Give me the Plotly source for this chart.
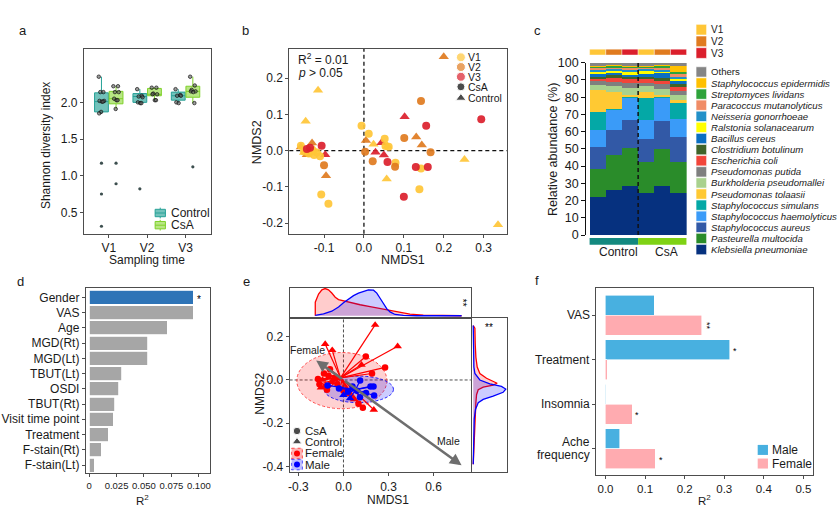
import plotly.graph_objects as go

FONT = "Liberation Sans, Arial, Helvetica, sans-serif"
W, H = 840, 521
INK = "#1a1a1a"
FRAME = "#4d4d4d"

# ===================== DATA =====================
# ---- Panel a: Shannon diversity (box statistics)
times = ["V1", "V2", "V3"]
ctrl_q1 = [1.87, 2.00, 2.03]
ctrl_med = [2.01, 2.08, 2.09]
ctrl_q3 = [2.13, 2.12, 2.14]
ctrl_low = [1.85, 1.99, 1.99]
ctrl_high = [2.35, 2.18, 2.18]
csa_q1 = [1.98, 2.09, 2.07]
csa_med = [2.05, 2.11, 2.15]
csa_q3 = [2.15, 2.19, 2.22]
csa_low = [1.91, 2.03, 1.99]
csa_high = [2.22, 2.20, 2.35]
ctrl_pts = [[2.35, 2.14, 2.14, 2.02, 2.02, 2.01, 2.01, 1.87, 1.85],
            [2.18, 2.09, 2.08, 2.07, 2.00, 1.99, 1.99],
            [2.18, 2.10, 2.09, 2.09, 2.00, 1.99]]
csa_pts = [[2.22, 2.22, 2.14, 2.14, 2.05, 2.03, 2.03, 1.91],
           [2.20, 2.20, 2.12, 2.11, 2.11, 2.03, 2.03],
           [2.35, 2.23, 2.17, 2.15, 2.15, 2.14, 1.99]]
ctrl_out = [[1.17, 0.75, 0.31], [0.82], []]
csa_out = [[1.17, 0.89], [], [1.12]]
jitter = [-0.07, 0.05, -0.03, 0.07, -0.05, 0.01, 0.04, -0.01, -0.06]

# ---- Panel b: NMDS of visits
b_nmds1 = [0.200, -0.115, -0.146, 0.102, 0.131, 0.145, 0.005, -0.130, -0.158, -0.143, -0.097,
           -0.095, 0.044, 0.029, 0.050, 0.024, 0.059, 0.057, 0.252, 0.336, -0.125, -0.150,
           0.143, 0.294, 0.156, -0.006, 0.012, 0.052, 0.101, 0.167, 0.003, 0.022, 0.059,
           0.079, 0.078, 0.130, 0.143, 0.160, 0.139, 0.100, -0.107, -0.089, -0.100, -0.106,
           -0.110, -0.158, -0.143, -0.135, -0.150, -0.138, -0.125, -0.118, -0.130, 0.054, 0.062]
b_nmds2 = [0.259, 0.167, 0.081, 0.094, 0.038, 0.016, 0.028, 0.021, 0.010, -0.011, -0.011,
           -0.069, 0.022, -0.004, -0.012, 0.018, 0.012, -0.078, -0.024, -0.204, 0.003, -0.005,
           0.137, 0.087, 0.069, 0.069, 0.047, 0.033, 0.035, -0.004, -0.003, -0.029, -0.031,
           -0.033, -0.044, -0.045, -0.049, -0.045, -0.106, -0.127, -0.121, -0.146, -0.040, 0.014,
           -0.015, 0.014, 0.005, 0.008, -0.002, -0.008, -0.012, -0.005, 0.000, 0.013, 0.011]
b_visit = ["V2", "V1", "V1", "V3", "V2", "V2", "V2", "V2", "V2", "V2", "V3",
           "V2", "V3", "V3", "V3", "V1", "V1", "V1", "V1", "V1", "V1", "V1",
           "V2", "V3", "V3", "V1", "V1", "V1", "V2", "V2", "V2", "V2", "V3",
           "V1", "V2", "V3", "V1", "V3", "V1", "V3", "V1", "V1", "V2", "V3",
           "V1", "V1", "V3", "V3", "V1", "V1", "V1", "V1", "V1", "V1", "V1"]
b_group = ["Control"] * 22 + ["CsA"] * 33
b_r2_text = "R<sup>2</sup> = 0.01"
b_p_text = "<i>p</i> &gt; 0.05"

# ---- Panel c: relative abundance (%) per sample, species bottom -> top
species = ["Klebsiella pneumoniae", "Pasteurella multocida", "Staphylococcus aureus",
           "Staphylococcus haemolyticus", "Staphylococcus simulans", "Pseudomonas tolaasii",
           "Burkholderia pseudomallei", "Pseudomonas putida", "Escherichia coli",
           "Clostridium botulinum", "Bacillus cereus", "Ralstonia solanacearum",
           "Neisseria gonorrhoeae", "Paracoccus mutanolyticus", "Streptomyces lividans",
           "Staphylococcus epidermidis", "Others"]
species_colors = ["#06317f", "#2a8c2a", "#3259a6", "#3a9bf8", "#04a8a6", "#ffc933",
                  "#a9d18e", "#7f7f7f", "#f2453a", "#3f6429", "#0a6fc2", "#ffff00",
                  "#2290c8", "#f08c66", "#2ea33a", "#ffc000", "#858585"]
samples = ["Control V1", "Control V2", "Control V3", "CsA V1", "CsA V2", "CsA V3"]
control_v1 = [22.2, 16.3, 12.5, 10.0, 10.5, 12.8, 2.7, 2.2, 1.5, 1.3, 1.2, 1.5, 1.3, 1.4, 0.8, 0.2, 1.6]
control_v2 = [26.2, 20.0, 14.8, 11.8, 0.2, 10.2, 3.6, 2.2, 2.3, 1.5, 1.4, 1.3, 0.8, 1.2, 1.0, 0.2, 1.3]
control_v3 = [28.6, 21.8, 16.1, 13.3, 0.2, 1.5, 3.8, 2.7, 2.3, 1.2, 1.5, 1.6, 1.7, 1.0, 0.7, 0.3, 1.7]
csa_v1 = [24.3, 18.1, 13.6, 10.8, 12.9, 3.3, 3.3, 2.2, 2.0, 1.3, 1.8, 1.9, 0.8, 1.2, 0.5, 0.2, 1.8]
csa_v2 = [28.4, 21.5, 16.5, 13.3, 0.2, 1.5, 3.6, 2.5, 1.8, 1.9, 2.6, 1.4, 1.0, 0.8, 1.5, 0.1, 1.4]
csa_v3 = [24.1, 18.3, 14.3, 10.7, 9.4, 1.5, 2.9, 2.3, 2.4, 1.7, 1.9, 1.5, 1.0, 1.2, 1.6, 3.4, 1.8]
sample_visit = ["V1", "V2", "V3", "V1", "V2", "V3"]
sample_group = ["Control", "Control", "Control", "CsA", "CsA", "CsA"]

# ---- Panel d: envfit R2
d_vars = ["Gender", "VAS", "Age", "MGD(Rt)", "MGD(Lt)", "TBUT(Lt)", "OSDI", "TBUT(Rt)",
          "Visit time point", "Treatment", "F-stain(Rt)", "F-stain(Lt)"]
d_r2 = [0.0950, 0.0948, 0.0713, 0.0536, 0.0533, 0.0297, 0.0270, 0.0234, 0.0222, 0.0176, 0.0113, 0.0045]
d_sig = ["*", "", "", "", "", "", "", "", "", "", "", ""]

# ---- Panel e: NMDS by gender
fem_x = [0.211, 0.361, -0.122, -0.075, 0.202, 0.149, 0.277, 0.129, 0.120, 0.190, -0.160, -0.140,
         -0.120, -0.100, -0.080, -0.060, -0.130, -0.040, 0.070, 0.030, -0.150, -0.090, 0.100, 0.000,
         -0.110, -0.170]
fem_y = [0.255, 0.156, 0.166, 0.138, -0.138, 0.109, 0.058, -0.128, 0.070, 0.030, -0.020, 0.000,
         -0.030, 0.020, -0.010, 0.010, 0.030, -0.020, -0.090, -0.060, -0.035, 0.050, -0.110, -0.050,
         -0.045, 0.005]
fem_trt = ["Control", "Control", "Control", "Control", "Control", "CsA", "CsA", "CsA", "Control", "CsA",
           "CsA", "Control", "CsA", "CsA", "Control", "CsA", "CsA", "CsA", "Control", "CsA", "Control",
           "CsA", "CsA", "CsA", "CsA", "CsA"]
male_x = [0.111, 0.200, 0.204, 0.180, 0.044, -0.106, 0.110, 0.060, 0.000, 0.150, 0.090, 0.030, -0.030]
male_y = [-0.003, -0.030, -0.072, -0.030, -0.085, -0.025, -0.080, -0.030, -0.070, -0.060, -0.050, -0.055, -0.040]
male_trt = ["CsA", "CsA", "CsA", "CsA", "Control", "CsA", "CsA", "CsA", "Control", "CsA", "CsA", "CsA", "CsA"]
fem_centroid = [-0.02, 0.01]
male_centroid = [0.08, -0.045]
fem_ellipse = [-0.311, 0.289, -0.133, 0.127]   # x0, x1, y0, y1
male_ellipse = [-0.129, 0.333, -0.105, 0.018]
arrow_female = [-0.182, 0.090]
arrow_male = [0.787, -0.395]
top_x_f = [-0.188, -0.188, -0.166, -0.144, -0.122, -0.100, -0.078, -0.055, -0.033, 0.000,
           0.044, 0.111, 0.177, 0.244, 0.310, 0.377, 0.443, 0.532, 0.665, 0.787]
top_d_f = [0, 42, 67, 80, 84, 80, 70, 57, 50, 46, 42, 34, 28, 22, 15, 9, 5, 2, 1, 0]
top_x_m = [-0.188, -0.133, -0.078, -0.033, 0.000, 0.033, 0.067, 0.100, 0.133, 0.166,
           0.200, 0.222, 0.244, 0.266, 0.288, 0.310, 0.344, 0.399, 0.488, 0.787]
top_d_m = [1, 6, 14, 27, 40, 52, 62, 70, 76, 80, 79, 70, 54, 37, 22, 12, 4, 1, 0, 0]
right_y_f = [0.252, 0.240, 0.165, 0.105, 0.060, 0.030, 0.008, -0.008, -0.015, -0.024,
             -0.033, -0.045, -0.068, -0.105, -0.150, -0.195, -0.270, -0.330, -0.390]
right_d_f = [0, 5, 6, 8, 12, 20, 40, 65, 72, 60, 30, 15, 10, 8, 7, 5, 3, 1, 0]
right_y_m = [0.252, 0.135, 0.060, 0.030, 0.000, -0.018, -0.030, -0.042, -0.057, -0.075,
             -0.090, -0.105, -0.135, -0.180, -0.270, -0.390]
right_d_m = [0, 1, 2, 5, 20, 50, 85, 98, 90, 60, 30, 15, 7, 3, 1, 0]

# ---- Panel f: R2 by gender
f_vars = ["VAS", "Treatment", "Insomnia", "Ache<br>frequency"]
f_male = [0.1235, 0.3143, 0.0010, 0.0360]
f_female = [0.2437, 0.0040, 0.0670, 0.1260]
f_male_sig = ["", "*", "", ""]
f_female_sig = ["**", "", "*", "*"]

# ===================== HELPERS =====================
def dom_x(a, b):
    return [a / W, b / W]

def dom_y(top, bottom):
    return [1 - bottom / H, 1 - top / H]

def framed(domain, rng, anchor, **kw):
    d = dict(domain=domain, range=rng, anchor=anchor, showline=True, mirror=True,
             linecolor=FRAME, linewidth=1, ticks="outside", ticklen=3, tickcolor=FRAME,
             showgrid=False, zeroline=False,
             tickfont=dict(family=FONT, size=12, color=INK))
    d.update(kw)
    return d

traces, shapes, ann = [], [], []

def txt(x, y, s, size=12, xa="center", ya="middle", angle=0, color=INK, xref="x9", yref="y9",
        align="center", yshift=0):
    ann.append(dict(x=x, y=y, xref=xref, yref=yref, text=s, showarrow=False, textangle=angle,
                    font=dict(family=FONT, size=size, color=color), xanchor=xa, yanchor=ya,
                    borderpad=0, align=align, yshift=yshift))

def rect(x0, y0, x1, y1, fill, line="rgba(0,0,0,0)", lw=0, dash="solid", xref="x9", yref="y9", layer="above"):
    shapes.append(dict(type="rect", x0=x0, x1=x1, y0=y0, y1=y1, xref=xref, yref=yref,
                       fillcolor=fill, line=dict(color=line, width=lw, dash=dash), layer=layer))

def seg(x0, y0, x1, y1, color, w=1, dash="solid", xref="x9", yref="y9", layer="above"):
    shapes.append(dict(type="line", x0=x0, x1=x1, y0=y0, y1=y1, xref=xref, yref=yref,
                       line=dict(color=color, width=w, dash=dash), layer=layer))

# ===================== PANEL a =====================
C_TEAL, C_TEAL_F = "#26a197", "rgba(38,161,151,0.65)"
C_LIME, C_LIME_F = "#7fd12a", "rgba(160,222,90,0.75)"
for off, q1, md, q3, lo, hi, col, fill in [
        (-0.19, ctrl_q1, ctrl_med, ctrl_q3, ctrl_low, ctrl_high, C_TEAL, C_TEAL_F),
        (0.19, csa_q1, csa_med, csa_q3, csa_low, csa_high, C_LIME, C_LIME_F)]:
    traces.append(go.Box(x=[i + 1 + off for i in range(3)], q1=q1, median=md, q3=q3,
                         lowerfence=lo, upperfence=hi, width=0.36, whiskerwidth=0,
                         fillcolor=fill, line=dict(color=col, width=1), boxpoints=False,
                         xaxis="x", yaxis="y"))
for off, pts, outs in [(-0.19, ctrl_pts, ctrl_out), (0.19, csa_pts, csa_out)]:
    px, py, ox, oy = [], [], [], []
    for i in range(3):
        for k, v in enumerate(pts[i]):
            px.append(i + 1 + off + jitter[k % len(jitter)])
            py.append(v)
        for v in outs[i]:
            ox.append(i + 1 + off)
            oy.append(v)
    traces.append(go.Scatter(x=px, y=py, mode="markers", xaxis="x", yaxis="y",
                             marker=dict(size=3.5, color="rgba(90,90,90,0.6)",
                                         line=dict(color="#111", width=0.7))))
    traces.append(go.Scatter(x=ox, y=oy, mode="markers", xaxis="x", yaxis="y",
                             marker=dict(size=3.2, color="#3d4f4f")))

# ===================== PANEL b =====================
visit_colors = {"V1": "#ffc637", "V2": "#e07b1f", "V3": "#db1f2c"}
for g, sym, sz in [("Control", "triangle-up", 9), ("CsA", "circle", 8)]:
    for v in ["V1", "V2", "V3"]:
        xs = [x for x, vv, gg in zip(b_nmds1, b_visit, b_group) if vv == v and gg == g]
        ys = [y for y, vv, gg in zip(b_nmds2, b_visit, b_group) if vv == v and gg == g]
        traces.append(go.Scatter(x=xs, y=ys, mode="markers", xaxis="x2", yaxis="y2",
                                 marker=dict(symbol=sym, size=sz, color=visit_colors[v],
                                             opacity=0.92, line=dict(width=0))))
seg(0, 0, 0, 1, "#111", 1.3, "4px,3px", "x2", "y2 domain", "below")
seg(0, 0, 1, 0, "#111", 1.3, "4px,3px", "x2 domain", "y2", "below")

# ===================== PANEL c =====================
sample_values = [control_v1, control_v2, control_v3, csa_v1, csa_v2, csa_v3]
for si, (name, col) in enumerate(zip(species, species_colors)):
    traces.append(go.Bar(x=list(range(6)), y=[sv[si] for sv in sample_values], width=1.0,
                         marker=dict(color=col, line=dict(width=0)), xaxis="x3", yaxis="y3",
                         name=name))
seg(2.5, 0, 2.5, 100, "#111", 1.5, "4px,3px", "x3", "y3", "above")
for i, (v, g) in enumerate(zip(sample_visit, sample_group)):
    rect(i - 0.5, 43.3, i + 0.5, 49.3, visit_colors[v], "white", 0.4, xref="x3")
grp_col = {"Control": "#13897f", "CsA": "#7fd214"}
rect(-0.5, 237.3, 2.5, 244.3, grp_col["Control"], xref="x3")
rect(2.5, 237.3, 5.5, 244.3, grp_col["CsA"], xref="x3")
txt(619.3, 251.5, "Control", 12)
txt(666.7, 251.5, "CsA", 12)
txt(553.3, 146, "Relative abundance (%)", 12.5, angle=-90)
# legends of panel c
for k, v in enumerate(["V1", "V2", "V3"]):
    yc = 23.3 + 12 * k
    rect(696.7, yc - 5.5, 707.3, yc + 5.5, visit_colors[v], "white", 0.6)
    txt(710.5, yc, v, 10, xa="left")
for k in range(len(species)):
    si = len(species) - 1 - k
    yc = 66.7 + 11.41 * k
    rect(696.7, yc - 5.3, 707.3, yc + 5.3, species_colors[si], "white", 0.6)
    label = species[si] if species[si] == "Others" else "<i>" + species[si] + "</i>"
    txt(710.5, yc, label, 9.6, xa="left")

# ===================== PANEL d =====================
d_pos = list(range(len(d_vars)))
traces.append(go.Bar(x=d_r2, y=d_pos, orientation="h", width=0.92, xaxis="x4", yaxis="y4",
                     marker=dict(color=["#2e74b7"] + ["#a6a6a6"] * (len(d_vars) - 1),
                                 line=dict(color="white", width=0.8))))
for p, v, s in zip(d_pos, d_r2, d_sig):
    if s:
        txt(v + 0.0052, p + 0.12, s, 10, xref="x4", yref="y4", color="#000")

# ===================== PANEL e =====================
shapes.append(dict(type="circle", xref="x5", yref="y5", x0=fem_ellipse[0], x1=fem_ellipse[1],
                   y0=fem_ellipse[2], y1=fem_ellipse[3], fillcolor="rgba(255,0,0,0.18)",
                   line=dict(color="rgba(255,40,40,0.8)", width=1, dash="3px,2px"), layer="below"))
shapes.append(dict(type="circle", xref="x5", yref="y5", x0=male_ellipse[0], x1=male_ellipse[1],
                   y0=male_ellipse[2], y1=male_ellipse[3], fillcolor="rgba(0,0,255,0.2)",
                   line=dict(color="rgba(0,0,255,0.85)", width=1, dash="3px,2px"), layer="below"))
seg(0, 0, 0, 1, "#222", 0.8, "3px,2px", "x5", "y5 domain", "below")
seg(0, 0, 1, 0, "#222", 0.8, "3px,2px", "x5 domain", "y5", "below")
for xs, ys, cen, col, trt in [(fem_x, fem_y, fem_centroid, "#ff0000", fem_trt),
                              (male_x, male_y, male_centroid, "#0000ff", male_trt)]:
    lx, ly = [], []
    for x, y in zip(xs, ys):
        lx += [cen[0], x, None]
        ly += [cen[1], y, None]
    traces.append(go.Scatter(x=lx, y=ly, mode="lines", xaxis="x5", yaxis="y5",
                             line=dict(color=col, width=1.2)))
    for t, sym, sz in [("CsA", "circle", 6.5), ("Control", "triangle-up", 7.5)]:
        traces.append(go.Scatter(x=[x for x, tt in zip(xs, trt) if tt == t],
                                 y=[y for y, tt in zip(ys, trt) if tt == t],
                                 mode="markers", xaxis="x5", yaxis="y5",
                                 marker=dict(symbol=sym, size=sz, color=col, line=dict(width=0))))
for head, lab, lpos in [(arrow_female, "Female", (-0.243, 0.138)), (arrow_male, "Male", (0.698, -0.281))]:
    ann.append(dict(x=head[0], y=head[1], ax=0, ay=0, xref="x5", yref="y5", axref="x5", ayref="y5",
                    showarrow=True, arrowhead=2, arrowsize=0.9, arrowwidth=2.6, arrowcolor="#6e6e6e",
                    text=""))
    txt(lpos[0], lpos[1], lab, 10.5, xref="x5", yref="y5")
# marginal densities
for xs, ds, line, fill in [(top_x_f, top_d_f, "#ff0000", "rgba(255,0,0,0.2)"),
                           (top_x_m, top_d_m, "#0000ff", "rgba(0,0,255,0.2)")]:
    traces.append(go.Scatter(x=xs, y=ds, mode="lines", fill="tozeroy", fillcolor=fill,
                             line=dict(color=line, width=1.3), xaxis="x6", yaxis="y6"))
for ys, ds, line, fill in [(right_y_f, right_d_f, "#ff0000", "rgba(255,0,0,0.2)"),
                           (right_y_m, right_d_m, "#0000ff", "rgba(0,0,255,0.2)")]:
    traces.append(go.Scatter(x=ds, y=ys, mode="lines", fill="tozerox", fillcolor=fill,
                             line=dict(color=line, width=1.3), xaxis="x7", yaxis="y7"))
txt(462.7, 303.5, "**", 10, angle=90, color="#000")
txt(489.3, 329.5, "**", 10, color="#000")
# legend panel e
traces.append(go.Scatter(x=[296.7, 296.7], y=[435.7, 446.7], mode="markers", xaxis="x9", yaxis="y9",
                         marker=dict(symbol=["circle", "triangle-up"], size=[7.5, 8.5], color="#000")))
rect(291.3, 453.4, 302.1, 464.2, "rgba(255,0,0,0.3)", "rgba(255,0,0,0.8)", 0.8, "dot")
rect(291.3, 464.8, 302.1, 475.6, "rgba(0,0,255,0.25)", "rgba(0,0,255,0.8)", 0.8, "dot")
traces.append(go.Scatter(x=[296.7, 296.7], y=[458.8, 470.2], mode="markers", xaxis="x9", yaxis="y9",
                         marker=dict(size=6, color=["#ff0000", "#0000ff"])))
for yy, s in zip([435.7, 446.7, 458.8, 470.2], ["CsA", "Control", "Female", "Male"]):
    txt(304, yy, s, 11.5, xa="left")

# ===================== PANEL f =====================
f_pos = list(range(len(f_vars)))
traces.append(go.Bar(x=f_male, y=[p - 0.225 for p in f_pos], orientation="h", width=0.45,
                     marker=dict(color="#48b0e0", line=dict(color="white", width=0.6)),
                     xaxis="x8", yaxis="y8"))
traces.append(go.Bar(x=f_female, y=[p + 0.225 for p in f_pos], orientation="h", width=0.45,
                     marker=dict(color="#ffabb0", line=dict(color="white", width=0.6)),
                     xaxis="x8", yaxis="y8"))
for p, v, s in zip(f_pos, f_male, f_male_sig):
    if s:
        txt(v + 0.012, p - 0.2, s, 9, xref="x8", yref="y8", color="#000")
for p, v, s in zip(f_pos, f_female, f_female_sig):
    if s:
        txt(v + 0.013, p + 0.25, s, 9, angle=90 if len(s) > 1 else 0, xref="x8", yref="y8", color="#000")
# category labels of panel f (each line right aligned)
for p, lab in zip(f_pos, f_vars):
    lines = lab.split("<br>")
    n = len(lines)
    for j, line_txt in enumerate(lines):
        txt(591.5, p, line_txt, 12, xa="right", xref="x9", yref="y8",
            yshift=(-(j - (n - 1) / 2)) * 13.5)
rect(758.5, 450, 768.8, 460.3, "#48b0e0")
rect(758.5, 464, 768.8, 474.3, "#ffabb0")
txt(771.5, 455.2, "Male", 12, xa="left")
txt(771.5, 469.2, "Female", 12, xa="left")

# ===================== legends / labels (canvas coordinates) =====================
# panel a legend
for yc, col, fill, lab in [(211.7, C_TEAL, C_TEAL_F, "Control"), (224.2, C_LIME, C_LIME_F, "CsA")]:
    rect(154.5, yc - 3.8, 164.8, yc + 3.8, fill, col, 1)
    seg(154.5, yc, 164.8, yc, col, 1)
    seg(159.6, yc - 5.5, 159.6, yc - 3.8, col, 1)
    seg(159.6, yc + 3.8, 159.6, yc + 5.5, col, 1)
    txt(169.5, yc, lab, 12, xa="left")
# panel b legend
traces.append(go.Scatter(x=[461] * 5, y=[51.7, 61.7, 71.7, 82, 93.5], mode="markers", xaxis="x9", yaxis="y9",
                         marker=dict(symbol=["circle"] * 4 + ["triangle-up"], size=[9, 9, 9, 8, 9],
                                     color=[visit_colors["V1"], visit_colors["V2"], visit_colors["V3"], "#000", "#000"])))
for yy, s in zip([51.7, 61.7, 71.7, 82, 93.5], ["V1", "V2", "V3", "CsA", "Control"]):
    txt(467.5, yy, s, 10.5, xa="left")
txt(296.5, 53, b_r2_text, 12, xa="left")
txt(296.5, 67.5, b_p_text, 12, xa="left")

# axis titles
txt(45, 142, "Shannon diversity index", 12, angle=-90)
txt(146.5, 259.5, "Sampling time", 12)
txt(256.5, 139, "NMDS2", 12.5, angle=-90)
txt(403.3, 259.5, "NMDS1", 12.5)
txt(142, 507, "R<sup>2</sup>", 11.5)
txt(260, 397, "NMDS2", 12, angle=-90)
txt(388.3, 506.5, "NMDS1", 12)
txt(705, 507, "R<sup>2</sup>", 11.5)

# panel letters
for x, y, s in [(22, 24, "a"), (245, 24, "b"), (538, 24, "c"), (20, 282, "d"), (246, 282, "e"), (537, 281, "f")]:
    txt(x, y, s, 13)

# ===================== LAYOUT =====================
layout = dict(
    width=W, height=H, margin=dict(l=0, r=0, t=0, b=0), paper_bgcolor="white",
    plot_bgcolor="rgba(0,0,0,0)", showlegend=False, barmode="stack", boxmode="overlay",
    font=dict(family=FONT, color=INK),
    xaxis=framed(dom_x(83, 210), [0.35, 3.65], "y", tickvals=[1, 2, 3], ticktext=times),
    yaxis=framed(dom_y(43, 233), [0.208, 2.73], "x", tickvals=[0.5, 1.0, 1.5, 2.0],
                 ticktext=["0.5", "1.0", "1.5", "2.0"]),
    xaxis2=framed(dom_x(289, 507), [-0.187, 0.358], "y2", tickvals=[-0.1, 0, 0.1, 0.2, 0.3],
                  ticktext=["-0.1", "0.0", "0.1", "0.2", "0.3"]),
    yaxis2=framed(dom_y(43, 233), [-0.229, 0.281], "x2", tickvals=[-0.2, -0.1, 0, 0.1, 0.2],
                  ticktext=["-0.2", "-0.1", "0.0", "0.1", "0.2"]),
    xaxis3=dict(domain=dom_x(586.7, 687.3), range=[-0.704, 5.5], anchor="y3", showline=False,
                showticklabels=False, ticks="", showgrid=False, zeroline=False),
    yaxis3=dict(domain=dom_y(57.3, 234.3), range=[0, 100], anchor="x3", showline=True,
                linecolor="#111", linewidth=1.2, ticks="outside", ticklen=4, tickcolor="#111",
                tickvals=list(range(0, 101, 10)), ticktext=[str(v) for v in range(0, 101, 10)],
                showgrid=False, zeroline=False, tickfont=dict(family=FONT, size=12.5, color=INK)),
    xaxis4=framed(dom_x(85, 209.3), [-0.003, 0.11], "y4", tickvals=[0, 0.025, 0.05, 0.075, 0.1],
                  ticktext=["0", "0.025", "0.050", "0.075", "0.100"],
                  tickfont=dict(family=FONT, size=9.5, color=INK)),
    yaxis4=framed(dom_y(288.3, 479.3), [11.55, -0.64], "x4", tickvals=d_pos, ticktext=d_vars),
    xaxis5=framed(dom_x(289.3, 471), [-0.359, 0.849], "y5", tickvals=[-0.3, 0, 0.3, 0.6],
                  ticktext=["-0.3", "0.0", "0.3", "0.6"]),
    yaxis5=framed(dom_y(320, 478.3), [-0.428, 0.285], "x5", tickvals=[-0.4, -0.2, 0, 0.2],
                  ticktext=["-0.4", "-0.2", "0.0", "0.2"]),
    xaxis6=framed(dom_x(289.3, 471), [-0.359, 0.849], "y6", ticks="", showticklabels=False),
    yaxis6=framed(dom_y(288.3, 319.3), [-6, 87], "x6", ticks="", showticklabels=False),
    xaxis7=framed(dom_x(471.7, 507.3), [-5, 102], "y7", ticks="", showticklabels=False),
    yaxis7=framed(dom_y(320, 478.3), [-0.428, 0.285], "x7", ticks="", showticklabels=False),
    xaxis8=framed(dom_x(596, 814.3), [-0.025, 0.525], "y8", tickvals=[0, 0.1, 0.2, 0.3, 0.4, 0.5],
                  ticktext=["0.0", "0.1", "0.2", "0.3", "0.4", "0.5"],
                  tickfont=dict(family=FONT, size=11.5, color=INK)),
    yaxis8=framed(dom_y(288.3, 480.7), [3.59, -0.62], "x8", tickvals=f_pos,
                  ticktext=["", "", "", ""]),
    xaxis9=dict(domain=[0, 1], range=[0, W], anchor="y9", visible=False, fixedrange=True),
    yaxis9=dict(domain=[0, 1], range=[H, 0], anchor="x9", visible=False, fixedrange=True),
    shapes=shapes, annotations=ann,
)

fig = go.Figure(data=traces, layout=layout)
fig.write_html("out.html")
